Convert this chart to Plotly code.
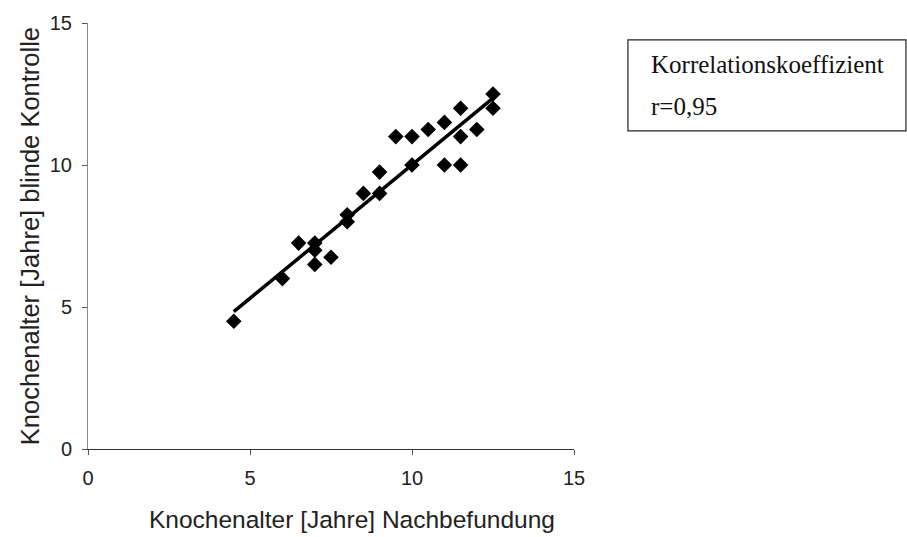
import numpy as np
import plotly.graph_objects as go

# Bone age estimates: re-assessment (x) vs. blinded control (y), in years
nachbefundung = [4.5, 6, 6.5, 7, 7, 7, 7.5, 8, 8, 8.5, 9, 9, 9.5, 10, 10,
                 10.5, 11, 11, 11.5, 11.5, 11.5, 12, 12.5, 12.5]
blinde_kontrolle = [4.5, 6, 7.25, 7.25, 7, 6.5, 6.75, 8.25, 8, 9, 9, 9.75, 11, 11, 10,
                    11.25, 11.5, 10, 10, 12, 11, 11.25, 12.5, 12]
r_text = "r=0,95"
axis_ticks = [0, 5, 10, 15]

x = np.array(nachbefundung)
y = np.array(blinde_kontrolle)
slope, intercept = np.polyfit(x, y, 1)
fit_x = np.array([x.min(), x.max()])
fit_y = slope * fit_x + intercept

fig = go.Figure()
fig.add_trace(go.Scatter(
    x=x, y=y, mode="markers",
    marker=dict(symbol="diamond", size=12, color="black", line=dict(width=0)),
    showlegend=False,
))
fig.add_trace(go.Scatter(
    x=fit_x, y=fit_y, mode="lines",
    line=dict(color="black", width=3.5),
    showlegend=False,
))

axis_font = dict(family="Liberation Sans, Arial, sans-serif", size=20, color="#222")
fig.update_xaxes(
    range=[0, 15], tickvals=axis_ticks, showgrid=False, zeroline=False,
    showline=True, linecolor="#333", linewidth=1,
    ticks="outside", ticklen=5, tickcolor="#555",
    tickfont=axis_font, ticklabelstandoff=6,
)
fig.update_yaxes(
    range=[0, 15], tickvals=axis_ticks, showgrid=False, zeroline=False,
    showline=True, linecolor="#888", linewidth=1,
    ticks="outside", ticklen=5, tickcolor="#555",
    tickfont=axis_font, ticklabelstandoff=6,
)

sans = "Liberation Sans, Arial, sans-serif"
fig.add_annotation(
    text="Knochenalter [Jahre] Nachbefundung", xref="paper", yref="paper",
    x=0.543, y=-0.165, showarrow=False,
    font=dict(family=sans, size=24.5, color="#222"),
    xanchor="center", yanchor="middle",
)
fig.add_annotation(
    text="Knochenalter [Jahre] blinde Kontrolle", xref="paper", yref="paper",
    x=-0.119, y=0.50, showarrow=False, textangle=-90,
    font=dict(family=sans, size=25.5, color="#222"),
    xanchor="center", yanchor="middle",
)

# Correlation coefficient box
serif = dict(family="Liberation Serif, Times New Roman, serif", size=25, color="#111")
fig.add_shape(
    type="rect", xref="paper", yref="paper",
    x0=1.111, x1=1.683, y0=0.747, y1=0.9606,
    line=dict(color="#222", width=1.2), fillcolor="white",
)
fig.add_annotation(
    text="Korrelationskoeffizient", xref="paper", yref="paper",
    x=1.155, y=0.903, showarrow=False, font=serif,
    xanchor="left", yanchor="middle",
)
fig.add_annotation(
    text=r_text, xref="paper", yref="paper",
    x=1.155, y=0.805, showarrow=False, font=serif,
    xanchor="left", yanchor="middle",
)

fig.update_layout(
    width=907, height=537,
    margin=dict(l=88, r=333, t=18, b=88),
    plot_bgcolor="white", paper_bgcolor="white",
)

fig.write_html("out.html")
